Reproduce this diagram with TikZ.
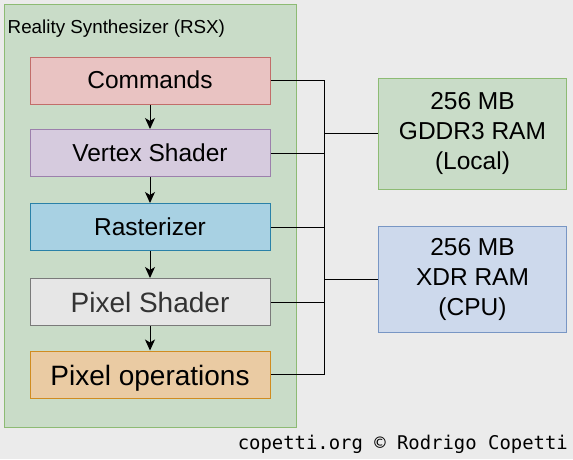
\documentclass[tikz,border=0pt]{standalone}
\usepackage{fontspec}
\setmainfont{Liberation Sans}
\newfontfamily\footmono{DejaVu Sans Mono}
\usetikzlibrary{arrows.meta}
\definecolor{bgc}{HTML}{EBEBEB}
\definecolor{rsxfill}{HTML}{C9DCC8}
\definecolor{rsxdraw}{HTML}{8DBB74}
\definecolor{cmdfill}{HTML}{E9C3C2}
\definecolor{cmddraw}{HTML}{C26D6A}
\definecolor{vtxfill}{HTML}{D6CBDE}
\definecolor{vtxdraw}{HTML}{9C80AC}
\definecolor{rasfill}{HTML}{A8D1E3}
\definecolor{rasdraw}{HTML}{2A81A8}
\definecolor{psfill}{HTML}{E6E6E6}
\definecolor{psdraw}{HTML}{7A7A7A}
\definecolor{pstext}{HTML}{333333}
\definecolor{pofill}{HTML}{EACBA3}
\definecolor{podraw}{HTML}{D08C20}
\definecolor{gdfill}{HTML}{C9DCC8}
\definecolor{gddraw}{HTML}{8DBB74}
\definecolor{xdfill}{HTML}{CDD9EC}
\definecolor{xddraw}{HTML}{7896C4}
\tikzset{
  stage/.style={draw, line width=1pt, minimum width=240pt, minimum height=47pt, inner sep=0pt, text height=16pt, text depth=0pt, font=\fontsize{24.5}{28}\selectfont},
  bigstage/.style={stage, text height=21pt, font=\fontsize{28}{32}\selectfont},
  mem/.style={draw, line width=1pt, minimum width=188pt, inner sep=0pt, align=center, font=\fontsize{24.5}{30}\selectfont},
  flow/.style={line width=1pt, -{Stealth[length=11pt,width=10pt,inset=3pt]}},
  bus/.style={line width=1pt}
}
\begin{document}
\begin{tikzpicture}[x=1pt,y=-1pt]
\useasboundingbox (0,0) rectangle (573,459);
\fill[bgc] (0,0) rectangle (573,459);
\node[draw=rsxdraw, fill=rsxfill, line width=1pt, minimum width=292pt, minimum height=423pt, inner sep=0pt] (rsx) at (150,215.5) {};
\node[anchor=base west, font=\fontsize{18.8}{22}\selectfont, inner sep=0pt] (title) at (7.5,33) {Reality Synthesizer (RSX)};
\node[stage, draw=cmddraw, fill=cmdfill] (cmd) at (150,80.5) {Commands};
\node[stage, draw=vtxdraw, fill=vtxfill] (vtx) at (150,153) {Vertex Shader};
\node[stage, draw=rasdraw, fill=rasfill] (ras) at (150,227) {Rasterizer};
\node[bigstage, draw=psdraw, fill=psfill, text=pstext] (ps) at (150,302) {Pixel Shader};
\node[bigstage, draw=podraw, fill=pofill] (po) at (150,374.5) {Pixel operations};
\draw[flow] (cmd) -- (vtx);
\draw[flow] (vtx) -- (ras);
\draw[flow] (ras) -- (ps);
\draw[flow] (ps) -- (po);
\node[mem, draw=gddraw, fill=gdfill, minimum height=111pt] (gddr) at (472.5,133.5) {256 MB\\GDDR3 RAM\\(Local)};
\node[mem, draw=xddraw, fill=xdfill, minimum height=106pt] (xdr) at (472.5,279) {256 MB\\XDR RAM\\(CPU)};
\coordinate (btop) at (324,80.5);
\coordinate (bbot) at (324,374.5);
\draw[bus] (cmd.east) -- (btop) -- (bbot) -- (po.east);
\draw[bus] (vtx.east) -- (vtx.east -| btop);
\draw[bus] (ras.east) -- (ras.east -| btop);
\draw[bus] (ps.east) -- (ps.east -| btop);
\draw[bus] (gddr.west -| btop) -- (gddr.west);
\draw[bus] (xdr.west -| btop) -- (xdr.west);
\node[anchor=base east, inner sep=0pt, font=\footmono\fontsize{18.9}{22}\selectfont] (foot) at (568,449) {copetti.org © Rodrigo Copetti};
\end{tikzpicture}
\end{document}
